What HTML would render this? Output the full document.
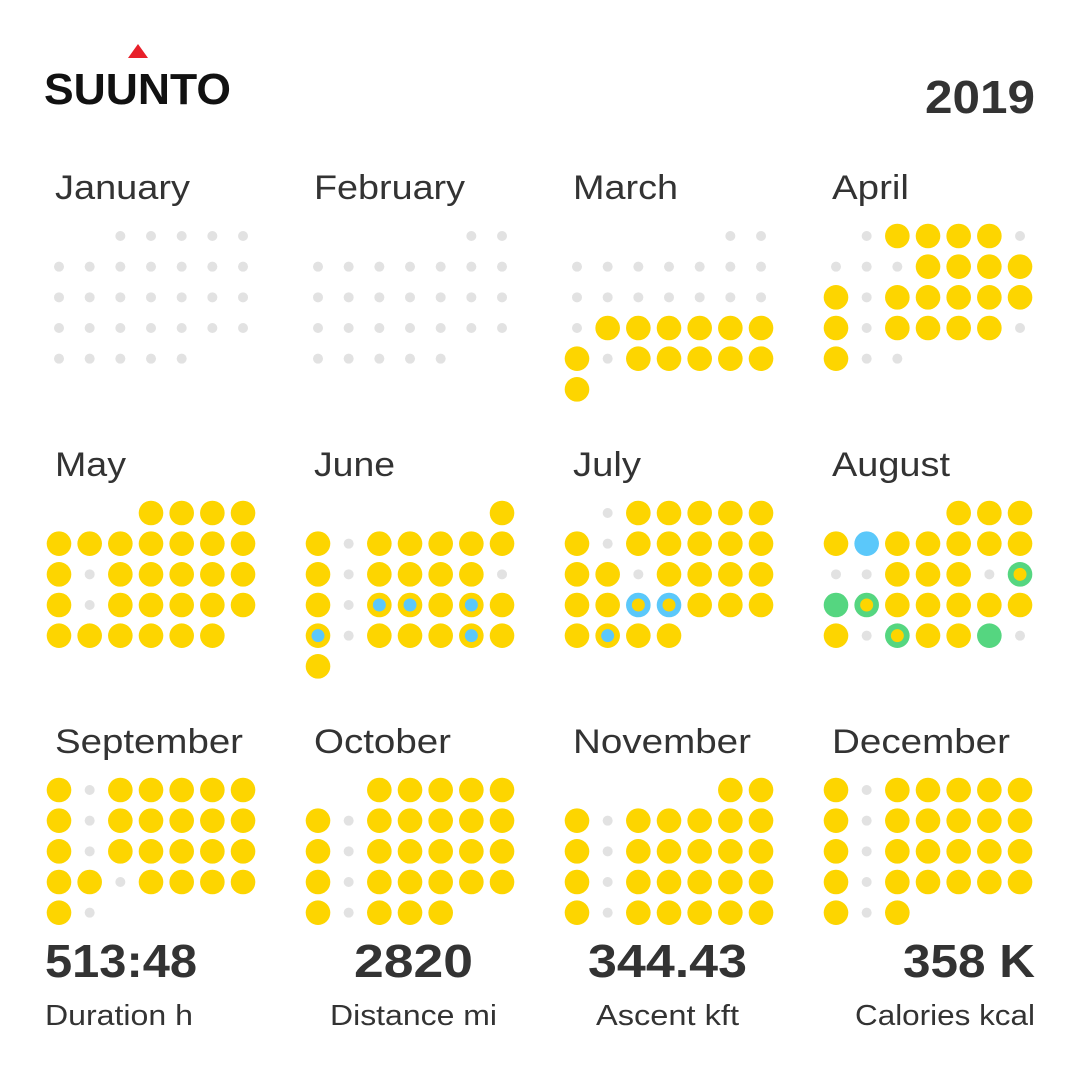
<!DOCTYPE html>
<html><head><meta charset="utf-8"><style>
html,body{margin:0;padding:0;background:#fff;width:1080px;height:1080px;overflow:hidden}
svg{display:block;font-family:"Liberation Sans",sans-serif}
.m{font-size:34px;fill:#333}
.v{font-size:46px;font-weight:bold;fill:#333}
.l{font-size:29px;fill:#333}
</style></head><body>
<svg id="chart" width="1080" height="1080" viewBox="0 0 1080 1080">
<polygon points="138,44 128,58 148,58" fill="#e8202a"/>
<text x="44" y="104" font-size="44" font-weight="bold" fill="#111" textLength="187" lengthAdjust="spacingAndGlyphs">SUUNTO</text>
<text x="925" y="113" class="v" textLength="110" lengthAdjust="spacingAndGlyphs">2019</text>
<g id="months"></g>
<text x="45" y="977" class="v" textLength="152" lengthAdjust="spacingAndGlyphs">513:48</text>
<text x="354" y="977" class="v" textLength="119" lengthAdjust="spacingAndGlyphs">2820</text>
<text x="588" y="977" class="v" textLength="159" lengthAdjust="spacingAndGlyphs">344.43</text>
<text x="903" y="977" class="v" textLength="132" lengthAdjust="spacingAndGlyphs">358 K</text>
<text x="45" y="1025" class="l" textLength="148" lengthAdjust="spacingAndGlyphs">Duration h</text>
<text x="330" y="1025" class="l" textLength="167" lengthAdjust="spacingAndGlyphs">Distance mi</text>
<text x="596" y="1025" class="l" textLength="143" lengthAdjust="spacingAndGlyphs">Ascent kft</text>
<text x="855" y="1025" class="l" textLength="180" lengthAdjust="spacingAndGlyphs">Calories kcal</text>
</svg>
<script>
const monthNames=["January","February","March","April","May","June","July","August","September","October","November","December"];
const labelWidths=[135,151,105,77,71,81,68,118,188,137,178,178];
const startDay=[2,5,5,1,3,6,1,4,0,2,5,0];
// codes: . none, y yellow, b blue, g green, c yellow+blue center, d blue+yellow center, e green+yellow center
const dayCodes=[
".".repeat(31),
".".repeat(28),
"................"+".yyyyyy"+"y.yyyyy"+"y",
".yyyy."+"...yyyy"+"y.yyyyy"+"y.yyyy."+"y..",
"yyyy"+"yyyyyyy"+"y.yyyyy"+"y.yyyyy"+"yyyyyy",
"y"+"y.yyyyy"+"y.yyyy."+"y.ccycy"+"c.yyycy"+"y",
".yyyyy"+"y.yyyyy"+"yy.yyyy"+"yyddyyy"+"ycyy",
"yyy"+"ybyyyyy"+"..yyy.e"+"geyyyyy"+"y.eyyg.",
"y.yyyyy"+"y.yyyyy"+"y.yyyyy"+"yy.yyyy"+"y.",
"yyyyy"+"y.yyyyy"+"y.yyyyy"+"y.yyyyy"+"y.yyy",
"yy"+"y.yyyyy"+"y.yyyyy"+"y.yyyyy"+"y.yyyyy",
"y.yyyyy"+"y.yyyyy"+"y.yyyyy"+"y.yyyyy"+"y.y"
];
const NS="http://www.w3.org/2000/svg";
const Y="#fdd500",B="#5bc8fa",G="#55d680",GR="#e2e2e2";
const g=document.getElementById("months");
function colX(mi,c){return 59+(mi%4)*259+c*30.67;}
function rowY(mi,r){return 236+Math.floor(mi/4)*277+r*30.67;}
function circ(p,x,y,r,f,name){const e=document.createElementNS(NS,"circle");e.setAttribute("cx",x);e.setAttribute("cy",y);e.setAttribute("r",r);e.setAttribute("fill",f);


p.appendChild(e);}
monthNames.forEach((mn,mi)=>{
  const mg=document.createElementNS(NS,"g");
  
  
  g.appendChild(mg);
  const t=document.createElementNS(NS,"text");
  t.setAttribute("x",colX(mi,0)-4);t.setAttribute("y",rowY(mi,0)-37);t.setAttribute("class","m");t.textContent=mn;
  t.setAttribute("textLength",labelWidths[mi]);t.setAttribute("lengthAdjust","spacingAndGlyphs");
  
  
  mg.appendChild(t);
  const s=dayCodes[mi];
  for(let d=0;d<s.length;d++){
    const idx=startDay[mi]+d,c=idx%7,r=Math.floor(idx/7);
    const x=colX(mi,c),y=rowY(mi,r),k=s[d];
    if(k==='.')circ(mg,x,y,5,GR,'rest-day');
    else if(k==='y')circ(mg,x,y,12.3,Y,'activity-day');
    else if(k==='b')circ(mg,x,y,12.3,B,'activity-day');
    else if(k==='g')circ(mg,x,y,12.3,G,'activity-day');
    else if(k==='c'){circ(mg,x,y,12.3,Y,'activity-day');circ(mg,x,y,6.5,B,'activity-inner');}
    else if(k==='d'){circ(mg,x,y,12.3,B,'activity-day');circ(mg,x,y,6.5,Y,'activity-inner');}
    else if(k==='e'){circ(mg,x,y,12.3,G,'activity-day');circ(mg,x,y,6.5,Y,'activity-inner');}
  }
});
</script>
</body></html>
